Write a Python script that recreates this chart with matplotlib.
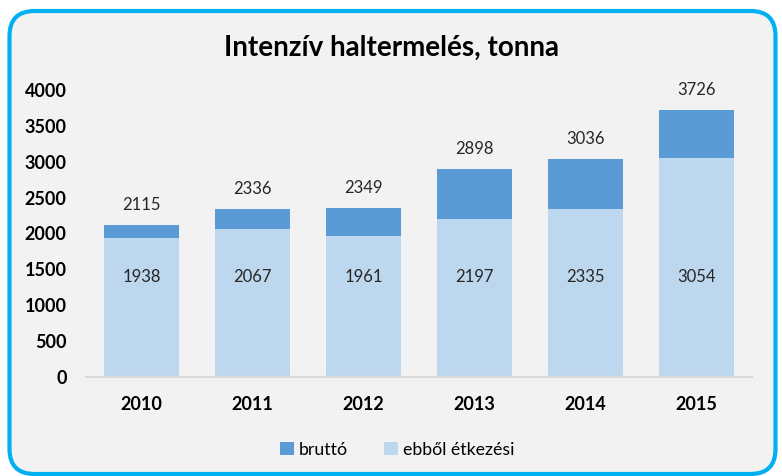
import matplotlib.pyplot as plt
from matplotlib.patches import FancyBboxPatch
import numpy as np

plt.rcParams['font.family'] = ['Lato', 'DejaVu Sans']

years = ['2010', '2011', '2012', '2013', '2014', '2015']
brutto = [2115, 2336, 2349, 2898, 3036, 3726]
etkezesi = [1938, 2067, 1961, 2197, 2335, 3054]

dark = '#5B9BD5'
light = '#BDD7EE'

fig = plt.figure(figsize=(7.82, 4.76), dpi=100)
fig.patch.set_facecolor('white')

# rounded blue frame, drawn in inches, behind the axes
frame = FancyBboxPatch((0.095, 0.02), 7.66, 4.63,
                       boxstyle='round,pad=0,rounding_size=0.25',
                       transform=fig.dpi_scale_trans,
                       facecolor='#F2F2F2', edgecolor='#00B0F0', linewidth=3,
                       zorder=-10)
fig.patches.append(frame)

ax = fig.add_axes([0.110, 0.208, 0.8516, 0.603])
ax.set_facecolor('none')
ax.set_zorder(5)

x = np.arange(len(years))
w = 0.675
top = [b - e for b, e in zip(brutto, etkezesi)]
ax.bar(x, etkezesi, w, color=light, label='ebből étkezési', zorder=2)
ax.bar(x, top, w, bottom=etkezesi, color=dark, label='bruttó', zorder=2)

for i in range(len(years)):
    ax.text(x[i], brutto[i] + 280, str(brutto[i]), ha='center', va='center',
            fontsize=12, color='#262626')
    ax.text(x[i], 1390, str(etkezesi[i]), ha='center', va='center',
            fontsize=12, color='#262626')

ax.set_xlim(-0.5, 5.5)
ax.set_ylim(0, 4000)
ax.set_yticks(range(0, 4001, 500))
ax.set_xticks(x)
ax.set_xticklabels(years)
for lbl in ax.get_xticklabels() + ax.get_yticklabels():
    lbl.set_fontweight('bold')
    lbl.set_fontsize(13)
ax.tick_params(axis='both', length=0)
ax.tick_params(axis='x', pad=14)
ax.tick_params(axis='y', pad=14)

for s in ['top', 'right', 'left']:
    ax.spines[s].set_visible(False)
ax.spines['bottom'].set_color('#D9D9D9')
ax.spines['bottom'].set_linewidth(1.5)

fig.text(0.501, 0.90, 'Intenzív haltermelés, tonna', ha='center', va='center',
         fontsize=20, fontweight='bold')

handles, labels = ax.get_legend_handles_labels()
fig.legend(handles[::-1], labels[::-1], loc='center', bbox_to_anchor=(0.508, 0.055),
           ncol=2, frameon=False, fontsize=12.8, handlelength=0.8, handleheight=0.8,
           handletextpad=0.3, columnspacing=2.0)

fig.savefig('out.png', dpi=100, facecolor=fig.get_facecolor())
